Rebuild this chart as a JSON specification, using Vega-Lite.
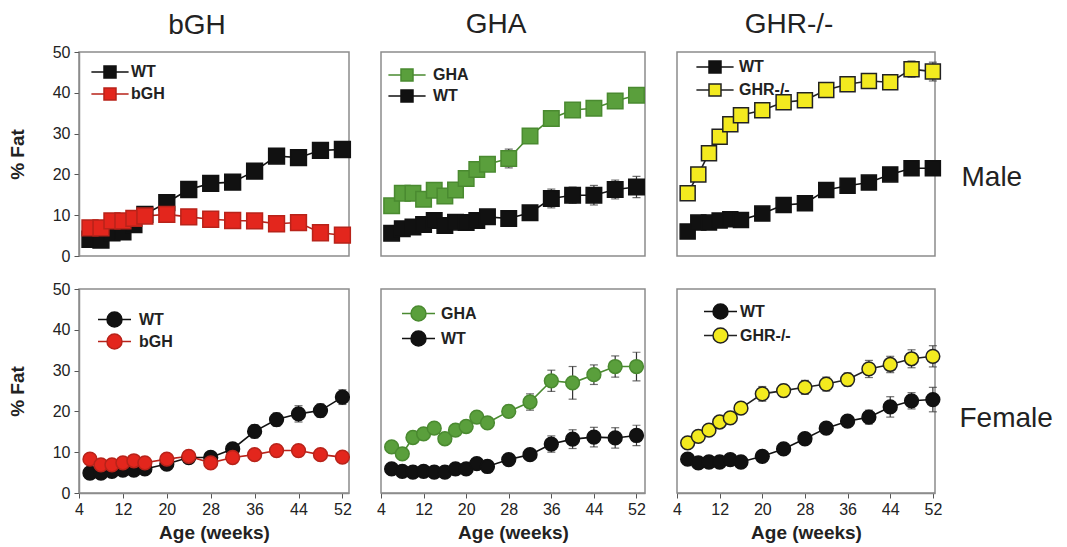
{
  "$schema": "https://vega.github.io/schema/vega-lite/v6.json",
  "padding": {"top": 10, "left": 7, "right": 5, "bottom": 5},
  "background": "white",
  "datasets": {
    "fat": [
      {"sex":"Male","model":"bGH","group":"WT","week":6,"fat":4.1,"se":0.6},
      {"sex":"Male","model":"bGH","group":"WT","week":8,"fat":3.9,"se":0.6},
      {"sex":"Male","model":"bGH","group":"WT","week":10,"fat":5.7,"se":0.6},
      {"sex":"Male","model":"bGH","group":"WT","week":12,"fat":5.9,"se":0.6},
      {"sex":"Male","model":"bGH","group":"WT","week":14,"fat":7.7,"se":0.6},
      {"sex":"Male","model":"bGH","group":"WT","week":16,"fat":10.2,"se":0.6},
      {"sex":"Male","model":"bGH","group":"WT","week":20,"fat":13.1,"se":0.8},
      {"sex":"Male","model":"bGH","group":"WT","week":24,"fat":16.3,"se":1.5},
      {"sex":"Male","model":"bGH","group":"WT","week":28,"fat":17.8,"se":1.0},
      {"sex":"Male","model":"bGH","group":"WT","week":32,"fat":18.1,"se":1.0},
      {"sex":"Male","model":"bGH","group":"WT","week":36,"fat":20.8,"se":1.5},
      {"sex":"Male","model":"bGH","group":"WT","week":40,"fat":24.5,"se":1.5},
      {"sex":"Male","model":"bGH","group":"WT","week":44,"fat":24.1,"se":1.2},
      {"sex":"Male","model":"bGH","group":"WT","week":48,"fat":25.9,"se":1.5},
      {"sex":"Male","model":"bGH","group":"WT","week":52,"fat":26.1,"se":1.2},
      {"sex":"Male","model":"bGH","group":"bGH","week":6,"fat":6.9,"se":0.6},
      {"sex":"Male","model":"bGH","group":"bGH","week":8,"fat":6.9,"se":0.6},
      {"sex":"Male","model":"bGH","group":"bGH","week":10,"fat":8.6,"se":0.6},
      {"sex":"Male","model":"bGH","group":"bGH","week":12,"fat":8.6,"se":0.6},
      {"sex":"Male","model":"bGH","group":"bGH","week":14,"fat":9.2,"se":0.6},
      {"sex":"Male","model":"bGH","group":"bGH","week":16,"fat":9.8,"se":0.6},
      {"sex":"Male","model":"bGH","group":"bGH","week":20,"fat":10.2,"se":0.6},
      {"sex":"Male","model":"bGH","group":"bGH","week":24,"fat":9.6,"se":0.6},
      {"sex":"Male","model":"bGH","group":"bGH","week":28,"fat":9.0,"se":0.6},
      {"sex":"Male","model":"bGH","group":"bGH","week":32,"fat":8.7,"se":0.6},
      {"sex":"Male","model":"bGH","group":"bGH","week":36,"fat":8.6,"se":0.6},
      {"sex":"Male","model":"bGH","group":"bGH","week":40,"fat":7.9,"se":0.6},
      {"sex":"Male","model":"bGH","group":"bGH","week":44,"fat":8.2,"se":0.6},
      {"sex":"Male","model":"bGH","group":"bGH","week":48,"fat":5.7,"se":0.6},
      {"sex":"Male","model":"bGH","group":"bGH","week":52,"fat":5.1,"se":0.6},

      {"sex":"Male","model":"GHA","group":"GHA","week":6,"fat":12.3,"se":1.0},
      {"sex":"Male","model":"GHA","group":"GHA","week":8,"fat":15.4,"se":1.0},
      {"sex":"Male","model":"GHA","group":"GHA","week":10,"fat":15.4,"se":1.0},
      {"sex":"Male","model":"GHA","group":"GHA","week":12,"fat":13.9,"se":1.0},
      {"sex":"Male","model":"GHA","group":"GHA","week":14,"fat":16.1,"se":1.2},
      {"sex":"Male","model":"GHA","group":"GHA","week":16,"fat":14.7,"se":1.0},
      {"sex":"Male","model":"GHA","group":"GHA","week":18,"fat":16.2,"se":1.0},
      {"sex":"Male","model":"GHA","group":"GHA","week":20,"fat":19.0,"se":1.0},
      {"sex":"Male","model":"GHA","group":"GHA","week":22,"fat":21.2,"se":1.0},
      {"sex":"Male","model":"GHA","group":"GHA","week":24,"fat":22.5,"se":1.0},
      {"sex":"Male","model":"GHA","group":"GHA","week":28,"fat":23.9,"se":2.3},
      {"sex":"Male","model":"GHA","group":"GHA","week":32,"fat":29.4,"se":1.0},
      {"sex":"Male","model":"GHA","group":"GHA","week":36,"fat":33.7,"se":1.0},
      {"sex":"Male","model":"GHA","group":"GHA","week":40,"fat":35.8,"se":1.0},
      {"sex":"Male","model":"GHA","group":"GHA","week":44,"fat":36.2,"se":1.0},
      {"sex":"Male","model":"GHA","group":"GHA","week":48,"fat":38.0,"se":1.0},
      {"sex":"Male","model":"GHA","group":"GHA","week":52,"fat":39.4,"se":1.0},
      {"sex":"Male","model":"GHA","group":"WT","week":6,"fat":5.6,"se":0.8},
      {"sex":"Male","model":"GHA","group":"WT","week":8,"fat":6.7,"se":0.8},
      {"sex":"Male","model":"GHA","group":"WT","week":10,"fat":7.1,"se":0.8},
      {"sex":"Male","model":"GHA","group":"WT","week":12,"fat":7.7,"se":0.8},
      {"sex":"Male","model":"GHA","group":"WT","week":14,"fat":8.7,"se":1.2},
      {"sex":"Male","model":"GHA","group":"WT","week":16,"fat":7.5,"se":0.8},
      {"sex":"Male","model":"GHA","group":"WT","week":18,"fat":8.3,"se":1.0},
      {"sex":"Male","model":"GHA","group":"WT","week":20,"fat":8.2,"se":1.2},
      {"sex":"Male","model":"GHA","group":"WT","week":22,"fat":8.7,"se":1.2},
      {"sex":"Male","model":"GHA","group":"WT","week":24,"fat":9.6,"se":1.0},
      {"sex":"Male","model":"GHA","group":"WT","week":28,"fat":9.2,"se":1.5},
      {"sex":"Male","model":"GHA","group":"WT","week":32,"fat":10.6,"se":1.5},
      {"sex":"Male","model":"GHA","group":"WT","week":36,"fat":14.1,"se":2.3},
      {"sex":"Male","model":"GHA","group":"WT","week":40,"fat":14.9,"se":2.0},
      {"sex":"Male","model":"GHA","group":"WT","week":44,"fat":14.9,"se":2.4},
      {"sex":"Male","model":"GHA","group":"WT","week":48,"fat":16.3,"se":2.3},
      {"sex":"Male","model":"GHA","group":"WT","week":52,"fat":16.9,"se":2.6},

      {"sex":"Male","model":"GHR","group":"GHR-/-","week":6,"fat":15.4,"se":0.8},
      {"sex":"Male","model":"GHR","group":"GHR-/-","week":8,"fat":20.0,"se":0.8},
      {"sex":"Male","model":"GHR","group":"GHR-/-","week":10,"fat":25.2,"se":0.8},
      {"sex":"Male","model":"GHR","group":"GHR-/-","week":12,"fat":29.2,"se":0.8},
      {"sex":"Male","model":"GHR","group":"GHR-/-","week":14,"fat":32.3,"se":0.8},
      {"sex":"Male","model":"GHR","group":"GHR-/-","week":16,"fat":34.5,"se":0.8},
      {"sex":"Male","model":"GHR","group":"GHR-/-","week":20,"fat":35.7,"se":1.7},
      {"sex":"Male","model":"GHR","group":"GHR-/-","week":24,"fat":37.7,"se":1.2},
      {"sex":"Male","model":"GHR","group":"GHR-/-","week":28,"fat":38.2,"se":1.2},
      {"sex":"Male","model":"GHR","group":"GHR-/-","week":32,"fat":40.7,"se":1.5},
      {"sex":"Male","model":"GHR","group":"GHR-/-","week":36,"fat":42.1,"se":1.2},
      {"sex":"Male","model":"GHR","group":"GHR-/-","week":40,"fat":42.9,"se":1.0},
      {"sex":"Male","model":"GHR","group":"GHR-/-","week":44,"fat":42.6,"se":1.5},
      {"sex":"Male","model":"GHR","group":"GHR-/-","week":48,"fat":45.8,"se":2.0},
      {"sex":"Male","model":"GHR","group":"GHR-/-","week":52,"fat":45.2,"se":2.3},
      {"sex":"Male","model":"GHR","group":"WT","week":6,"fat":6.0,"se":0.6},
      {"sex":"Male","model":"GHR","group":"WT","week":8,"fat":8.2,"se":0.6},
      {"sex":"Male","model":"GHR","group":"WT","week":10,"fat":8.2,"se":0.6},
      {"sex":"Male","model":"GHR","group":"WT","week":12,"fat":8.7,"se":0.6},
      {"sex":"Male","model":"GHR","group":"WT","week":14,"fat":9.0,"se":0.6},
      {"sex":"Male","model":"GHR","group":"WT","week":16,"fat":8.8,"se":0.6},
      {"sex":"Male","model":"GHR","group":"WT","week":20,"fat":10.4,"se":1.0},
      {"sex":"Male","model":"GHR","group":"WT","week":24,"fat":12.5,"se":1.3},
      {"sex":"Male","model":"GHR","group":"WT","week":28,"fat":12.9,"se":1.6},
      {"sex":"Male","model":"GHR","group":"WT","week":32,"fat":16.2,"se":1.0},
      {"sex":"Male","model":"GHR","group":"WT","week":36,"fat":17.2,"se":1.0},
      {"sex":"Male","model":"GHR","group":"WT","week":40,"fat":18.0,"se":0.8},
      {"sex":"Male","model":"GHR","group":"WT","week":44,"fat":20.0,"se":1.0},
      {"sex":"Male","model":"GHR","group":"WT","week":48,"fat":21.5,"se":1.2},
      {"sex":"Male","model":"GHR","group":"WT","week":52,"fat":21.5,"se":1.2},

      {"sex":"Female","model":"bGH","group":"WT","week":6,"fat":4.9,"se":0.6},
      {"sex":"Female","model":"bGH","group":"WT","week":8,"fat":4.9,"se":0.6},
      {"sex":"Female","model":"bGH","group":"WT","week":10,"fat":5.3,"se":0.6},
      {"sex":"Female","model":"bGH","group":"WT","week":12,"fat":5.6,"se":0.6},
      {"sex":"Female","model":"bGH","group":"WT","week":14,"fat":5.6,"se":0.6},
      {"sex":"Female","model":"bGH","group":"WT","week":16,"fat":5.9,"se":0.6},
      {"sex":"Female","model":"bGH","group":"WT","week":20,"fat":7.1,"se":0.6},
      {"sex":"Female","model":"bGH","group":"WT","week":24,"fat":8.7,"se":0.6},
      {"sex":"Female","model":"bGH","group":"WT","week":28,"fat":8.7,"se":0.6},
      {"sex":"Female","model":"bGH","group":"WT","week":32,"fat":10.8,"se":0.6},
      {"sex":"Female","model":"bGH","group":"WT","week":36,"fat":15.1,"se":1.6},
      {"sex":"Female","model":"bGH","group":"WT","week":40,"fat":18.0,"se":1.6},
      {"sex":"Female","model":"bGH","group":"WT","week":44,"fat":19.4,"se":2.0},
      {"sex":"Female","model":"bGH","group":"WT","week":48,"fat":20.2,"se":1.6},
      {"sex":"Female","model":"bGH","group":"WT","week":52,"fat":23.5,"se":1.8},
      {"sex":"Female","model":"bGH","group":"bGH","week":6,"fat":8.3,"se":0.6},
      {"sex":"Female","model":"bGH","group":"bGH","week":8,"fat":6.9,"se":0.6},
      {"sex":"Female","model":"bGH","group":"bGH","week":10,"fat":6.9,"se":0.6},
      {"sex":"Female","model":"bGH","group":"bGH","week":12,"fat":7.4,"se":0.6},
      {"sex":"Female","model":"bGH","group":"bGH","week":14,"fat":7.9,"se":0.6},
      {"sex":"Female","model":"bGH","group":"bGH","week":16,"fat":7.4,"se":0.6},
      {"sex":"Female","model":"bGH","group":"bGH","week":20,"fat":8.3,"se":0.6},
      {"sex":"Female","model":"bGH","group":"bGH","week":24,"fat":9.0,"se":0.6},
      {"sex":"Female","model":"bGH","group":"bGH","week":28,"fat":7.4,"se":0.6},
      {"sex":"Female","model":"bGH","group":"bGH","week":32,"fat":8.7,"se":0.6},
      {"sex":"Female","model":"bGH","group":"bGH","week":36,"fat":9.4,"se":0.6},
      {"sex":"Female","model":"bGH","group":"bGH","week":40,"fat":10.4,"se":0.8},
      {"sex":"Female","model":"bGH","group":"bGH","week":44,"fat":10.4,"se":0.8},
      {"sex":"Female","model":"bGH","group":"bGH","week":48,"fat":9.4,"se":0.6},
      {"sex":"Female","model":"bGH","group":"bGH","week":52,"fat":8.8,"se":0.6},

      {"sex":"Female","model":"GHA","group":"GHA","week":6,"fat":11.3,"se":1.0},
      {"sex":"Female","model":"GHA","group":"GHA","week":8,"fat":9.6,"se":1.0},
      {"sex":"Female","model":"GHA","group":"GHA","week":10,"fat":13.6,"se":1.0},
      {"sex":"Female","model":"GHA","group":"GHA","week":12,"fat":14.5,"se":1.0},
      {"sex":"Female","model":"GHA","group":"GHA","week":14,"fat":15.9,"se":1.0},
      {"sex":"Female","model":"GHA","group":"GHA","week":16,"fat":13.3,"se":1.0},
      {"sex":"Female","model":"GHA","group":"GHA","week":18,"fat":15.4,"se":1.0},
      {"sex":"Female","model":"GHA","group":"GHA","week":20,"fat":16.3,"se":1.0},
      {"sex":"Female","model":"GHA","group":"GHA","week":22,"fat":18.6,"se":1.0},
      {"sex":"Female","model":"GHA","group":"GHA","week":24,"fat":17.2,"se":1.0},
      {"sex":"Female","model":"GHA","group":"GHA","week":28,"fat":20.0,"se":1.5},
      {"sex":"Female","model":"GHA","group":"GHA","week":32,"fat":22.3,"se":2.0},
      {"sex":"Female","model":"GHA","group":"GHA","week":36,"fat":27.5,"se":2.6},
      {"sex":"Female","model":"GHA","group":"GHA","week":40,"fat":27.0,"se":4.0},
      {"sex":"Female","model":"GHA","group":"GHA","week":44,"fat":29.0,"se":2.4},
      {"sex":"Female","model":"GHA","group":"GHA","week":48,"fat":31.0,"se":2.6},
      {"sex":"Female","model":"GHA","group":"GHA","week":52,"fat":31.0,"se":3.5},
      {"sex":"Female","model":"GHA","group":"WT","week":6,"fat":5.9,"se":0.6},
      {"sex":"Female","model":"GHA","group":"WT","week":8,"fat":5.3,"se":0.6},
      {"sex":"Female","model":"GHA","group":"WT","week":10,"fat":5.1,"se":0.6},
      {"sex":"Female","model":"GHA","group":"WT","week":12,"fat":5.3,"se":0.6},
      {"sex":"Female","model":"GHA","group":"WT","week":14,"fat":5.1,"se":0.6},
      {"sex":"Female","model":"GHA","group":"WT","week":16,"fat":5.1,"se":0.6},
      {"sex":"Female","model":"GHA","group":"WT","week":18,"fat":5.9,"se":0.6},
      {"sex":"Female","model":"GHA","group":"WT","week":20,"fat":5.9,"se":0.6},
      {"sex":"Female","model":"GHA","group":"WT","week":22,"fat":7.2,"se":0.6},
      {"sex":"Female","model":"GHA","group":"WT","week":24,"fat":6.5,"se":0.6},
      {"sex":"Female","model":"GHA","group":"WT","week":28,"fat":8.2,"se":0.8},
      {"sex":"Female","model":"GHA","group":"WT","week":32,"fat":9.4,"se":1.0},
      {"sex":"Female","model":"GHA","group":"WT","week":36,"fat":12.0,"se":2.0},
      {"sex":"Female","model":"GHA","group":"WT","week":40,"fat":13.2,"se":2.3},
      {"sex":"Female","model":"GHA","group":"WT","week":44,"fat":13.7,"se":2.4},
      {"sex":"Female","model":"GHA","group":"WT","week":48,"fat":13.5,"se":2.5},
      {"sex":"Female","model":"GHA","group":"WT","week":52,"fat":14.1,"se":2.5},

      {"sex":"Female","model":"GHR","group":"GHR-/-","week":6,"fat":12.3,"se":0.8},
      {"sex":"Female","model":"GHR","group":"GHR-/-","week":8,"fat":13.9,"se":0.8},
      {"sex":"Female","model":"GHR","group":"GHR-/-","week":10,"fat":15.4,"se":0.8},
      {"sex":"Female","model":"GHR","group":"GHR-/-","week":12,"fat":17.4,"se":0.8},
      {"sex":"Female","model":"GHR","group":"GHR-/-","week":14,"fat":18.4,"se":0.8},
      {"sex":"Female","model":"GHR","group":"GHR-/-","week":16,"fat":20.8,"se":0.8},
      {"sex":"Female","model":"GHR","group":"GHR-/-","week":20,"fat":24.3,"se":1.8},
      {"sex":"Female","model":"GHR","group":"GHR-/-","week":24,"fat":25.1,"se":1.5},
      {"sex":"Female","model":"GHR","group":"GHR-/-","week":28,"fat":25.9,"se":1.7},
      {"sex":"Female","model":"GHR","group":"GHR-/-","week":32,"fat":26.7,"se":1.7},
      {"sex":"Female","model":"GHR","group":"GHR-/-","week":36,"fat":27.8,"se":1.6},
      {"sex":"Female","model":"GHR","group":"GHR-/-","week":40,"fat":30.4,"se":2.1},
      {"sex":"Female","model":"GHR","group":"GHR-/-","week":44,"fat":31.5,"se":2.0},
      {"sex":"Female","model":"GHR","group":"GHR-/-","week":48,"fat":32.9,"se":2.2},
      {"sex":"Female","model":"GHR","group":"GHR-/-","week":52,"fat":33.5,"se":2.6},
      {"sex":"Female","model":"GHR","group":"WT","week":6,"fat":8.3,"se":0.6},
      {"sex":"Female","model":"GHR","group":"WT","week":8,"fat":7.4,"se":0.6},
      {"sex":"Female","model":"GHR","group":"WT","week":10,"fat":7.6,"se":0.6},
      {"sex":"Female","model":"GHR","group":"WT","week":12,"fat":7.6,"se":0.6},
      {"sex":"Female","model":"GHR","group":"WT","week":14,"fat":8.2,"se":0.6},
      {"sex":"Female","model":"GHR","group":"WT","week":16,"fat":7.6,"se":0.6},
      {"sex":"Female","model":"GHR","group":"WT","week":20,"fat":9.0,"se":0.8},
      {"sex":"Female","model":"GHR","group":"WT","week":24,"fat":10.8,"se":0.8},
      {"sex":"Female","model":"GHR","group":"WT","week":28,"fat":13.3,"se":0.8},
      {"sex":"Female","model":"GHR","group":"WT","week":32,"fat":15.9,"se":0.8},
      {"sex":"Female","model":"GHR","group":"WT","week":36,"fat":17.6,"se":1.0},
      {"sex":"Female","model":"GHR","group":"WT","week":40,"fat":18.6,"se":1.7},
      {"sex":"Female","model":"GHR","group":"WT","week":44,"fat":21.1,"se":2.5},
      {"sex":"Female","model":"GHR","group":"WT","week":48,"fat":22.6,"se":2.0},
      {"sex":"Female","model":"GHR","group":"WT","week":52,"fat":22.9,"se":3.0}
    ]
  },
  "data": {"name": "fat"},
  "spacing": 15,
  "resolve": {"scale": {"x": "independent", "y": "independent", "fill": "independent", "stroke": "independent"}, "legend": {"fill": "independent", "stroke": "independent"}},
  "vconcat": [
    {
      "spacing": 32,
      "bounds": "flush",
      "resolve": {"scale": {"x": "independent", "y": "independent", "fill": "independent", "stroke": "independent"}, "legend": {"fill": "independent", "stroke": "independent"}},
      "hconcat": [
        {
          "width": 270, "height": 204,
          "title": {"text": "bGH", "dx": -17, "offset": 4},
          "transform": [{"filter": "datum.sex === 'Male' && datum.model === 'bGH'"}],
          "encoding": {
            "x": {"field": "week", "type": "quantitative", "scale": {"domain": [4, 53.2], "nice": false, "zero": false}, "axis": null},
            "y": {"field": "fat", "type": "quantitative", "scale": {"domain": [0, 50], "nice": false}, "axis": {"values": [0, 10, 20, 30, 40, 50], "title": "% Fat", "titlePadding": 25, "labelPadding": 4}}
          },
          "layer": [
            {"mark": {"type": "errorbar", "ticks": {"size": 8}, "color": "#333", "thickness": 1.2}, "encoding": {"y": {"field": "fat", "type": "quantitative"}, "yError": {"field": "se"}}},
            {"mark": {"type": "line", "strokeWidth": 1.6}, "encoding": {"stroke": {"field": "group", "type": "nominal", "scale": {"domain": ["WT", "bGH"], "range": ["#111111", "#b8231a"]}}}},
            {"mark": {"type": "point", "shape": "square", "filled": true, "size": 250, "strokeWidth": 1.5, "opacity": 1},
             "encoding": {
               "fill": {"field": "group", "type": "nominal", "scale": {"domain": ["WT", "bGH"], "range": ["#111111", "#e3261d"]},
                        "legend": {"orient": "none", "legendX": 23, "legendY": 12, "title": null, "symbolType": "M-3.1,0H-1M1,0H3.1M-1,-1H1V1H-1Z", "symbolSize": 144, "symbolStrokeWidth": 1.5, "labelOffset": 13, "rowPadding": 4}},
               "stroke": {"field": "group", "type": "nominal", "scale": {"domain": ["WT", "bGH"], "range": ["#111111", "#b8231a"]},
                        "legend": {"orient": "none", "legendX": 23, "legendY": 12, "title": null, "symbolType": "M-3.1,0H-1M1,0H3.1M-1,-1H1V1H-1Z", "symbolSize": 144, "symbolStrokeWidth": 1.5, "labelOffset": 13, "rowPadding": 4}}
             }}
          ]
        },
        {
          "width": 264, "height": 204,
          "title": {"text": "GHA", "dx": -17, "offset": 13},
          "transform": [{"filter": "datum.sex === 'Male' && datum.model === 'GHA'"}],
          "encoding": {
            "x": {"field": "week", "type": "quantitative", "scale": {"domain": [4, 53.6], "nice": false, "zero": false}, "axis": null},
            "y": {"field": "fat", "type": "quantitative", "scale": {"domain": [0, 50], "nice": false}, "axis": null}
          },
          "layer": [
            {"mark": {"type": "errorbar", "ticks": {"size": 8}, "color": "#333", "thickness": 1.2}, "encoding": {"y": {"field": "fat", "type": "quantitative"}, "yError": {"field": "se"}}},
            {"mark": {"type": "line", "strokeWidth": 1.6}, "encoding": {"stroke": {"field": "group", "type": "nominal", "scale": {"domain": ["GHA", "WT"], "range": ["#4a8a30", "#111111"]}}}},
            {"mark": {"type": "point", "shape": "square", "filled": true, "size": 240, "strokeWidth": 1.5, "opacity": 1},
             "encoding": {
               "fill": {"field": "group", "type": "nominal", "scale": {"domain": ["GHA", "WT"], "range": ["#5a9f3c", "#111111"]},
                        "legend": {"orient": "none", "legendX": 18, "legendY": 15, "title": null, "symbolType": "M-3.1,0H-1M1,0H3.1M-1,-1H1V1H-1Z", "symbolSize": 144, "symbolStrokeWidth": 1.5, "labelOffset": 18, "rowPadding": 3}},
               "stroke": {"field": "group", "type": "nominal", "scale": {"domain": ["GHA", "WT"], "range": ["#3f7a28", "#111111"]},
                        "legend": {"orient": "none", "legendX": 18, "legendY": 15, "title": null, "symbolType": "M-3.1,0H-1M1,0H3.1M-1,-1H1V1H-1Z", "symbolSize": 144, "symbolStrokeWidth": 1.5, "labelOffset": 18, "rowPadding": 3}}
             }}
          ]
        },
        {
          "width": 258, "height": 204,
          "title": {"text": "GHR-/-", "dx": -17, "offset": 13},
          "transform": [{"filter": "datum.sex === 'Male' && datum.model === 'GHR'"}],
          "encoding": {
            "x": {"field": "week", "type": "quantitative", "scale": {"domain": [4, 52.4], "nice": false, "zero": false}, "axis": null},
            "y": {"field": "fat", "type": "quantitative", "scale": {"domain": [0, 50], "nice": false},
                  "axis": {"orient": "right", "labels": false, "ticks": false, "domain": false, "grid": false, "title": "Male", "titleAngle": 0, "titleFontSize": 28, "titleFontWeight": "normal", "titleAlign": "left", "titleBaseline": "alphabetic", "titleX": 26, "titleY": 133}}
          },
          "layer": [
            {"mark": {"type": "errorbar", "ticks": {"size": 8}, "color": "#333", "thickness": 1.2}, "encoding": {"y": {"field": "fat", "type": "quantitative"}, "yError": {"field": "se"}}},
            {"mark": {"type": "line", "strokeWidth": 1.6}, "encoding": {"stroke": {"field": "group", "type": "nominal", "scale": {"domain": ["WT", "GHR-/-"], "range": ["#111111", "#222222"]}}}},
            {"mark": {"type": "point", "shape": "square", "filled": true, "size": 225, "strokeWidth": 1.5, "opacity": 1},
             "encoding": {
               "fill": {"field": "group", "type": "nominal", "scale": {"domain": ["WT", "GHR-/-"], "range": ["#111111", "#f3ea1f"]},
                        "legend": {"orient": "none", "legendX": 30, "legendY": 7, "title": null, "symbolType": "M-3.1,0H-1M1,0H3.1M-1,-1H1V1H-1Z", "symbolSize": 144, "symbolStrokeWidth": 1.5, "labelOffset": 16, "rowPadding": 5}},
               "stroke": {"field": "group", "type": "nominal", "scale": {"domain": ["WT", "GHR-/-"], "range": ["#111111", "#222222"]},
                        "legend": {"orient": "none", "legendX": 30, "legendY": 7, "title": null, "symbolType": "M-3.1,0H-1M1,0H3.1M-1,-1H1V1H-1Z", "symbolSize": 144, "symbolStrokeWidth": 1.5, "labelOffset": 16, "rowPadding": 5}}
             }}
          ]
        }
      ]
    },
    {
      "spacing": 32,
      "bounds": "flush",
      "resolve": {"scale": {"x": "independent", "y": "independent", "fill": "independent", "stroke": "independent"}, "legend": {"fill": "independent", "stroke": "independent"}},
      "hconcat": [
        {
          "width": 270, "height": 204,
          "transform": [{"filter": "datum.sex === 'Female' && datum.model === 'bGH'"}],
          "encoding": {
            "x": {"field": "week", "type": "quantitative", "scale": {"domain": [4, 53.2], "nice": false, "zero": false}, "axis": {"values": [4, 12, 20, 28, 36, 44, 52], "title": "Age (weeks)", "titlePadding": 6, "labelPadding": 3, "labelFlush": false}},
            "y": {"field": "fat", "type": "quantitative", "scale": {"domain": [0, 50], "nice": false}, "axis": {"values": [0, 10, 20, 30, 40, 50], "title": "% Fat", "titlePadding": 25, "labelPadding": 4}}
          },
          "layer": [
            {"mark": {"type": "errorbar", "ticks": {"size": 8}, "color": "#333", "thickness": 1.2}, "encoding": {"y": {"field": "fat", "type": "quantitative"}, "yError": {"field": "se"}}},
            {"mark": {"type": "line", "strokeWidth": 1.6}, "encoding": {"stroke": {"field": "group", "type": "nominal", "scale": {"domain": ["WT", "bGH"], "range": ["#111111", "#b8231a"]}}}},
            {"mark": {"type": "point", "shape": "circle", "filled": true, "size": 190, "strokeWidth": 1.5, "opacity": 1},
             "encoding": {
               "fill": {"field": "group", "type": "nominal", "scale": {"domain": ["WT", "bGH"], "range": ["#111111", "#e3261d"]},
                        "legend": {"orient": "none", "legendX": 27, "legendY": 22, "title": null, "symbolType": "M-2.2,0H-1M1,0H2.2M-1,0A1,1 0 1,1 1,0A1,1 0 1,1 -1,0Z", "symbolSize": 225, "symbolStrokeWidth": 1.5, "labelOffset": 16, "rowPadding": 1}},
               "stroke": {"field": "group", "type": "nominal", "scale": {"domain": ["WT", "bGH"], "range": ["#111111", "#b8231a"]},
                        "legend": {"orient": "none", "legendX": 27, "legendY": 22, "title": null, "symbolType": "M-2.2,0H-1M1,0H2.2M-1,0A1,1 0 1,1 1,0A1,1 0 1,1 -1,0Z", "symbolSize": 225, "symbolStrokeWidth": 1.5, "labelOffset": 16, "rowPadding": 1}}
             }}
          ]
        },
        {
          "width": 264, "height": 204,
          "transform": [{"filter": "datum.sex === 'Female' && datum.model === 'GHA'"}],
          "encoding": {
            "x": {"field": "week", "type": "quantitative", "scale": {"domain": [4, 53.6], "nice": false, "zero": false}, "axis": {"values": [4, 12, 20, 28, 36, 44, 52], "title": "Age (weeks)", "titlePadding": 6, "labelPadding": 3, "labelFlush": false}},
            "y": {"field": "fat", "type": "quantitative", "scale": {"domain": [0, 50], "nice": false}, "axis": null}
          },
          "layer": [
            {"mark": {"type": "errorbar", "ticks": {"size": 8}, "color": "#333", "thickness": 1.2}, "encoding": {"y": {"field": "fat", "type": "quantitative"}, "yError": {"field": "se"}}},
            {"mark": {"type": "line", "strokeWidth": 1.6}, "encoding": {"stroke": {"field": "group", "type": "nominal", "scale": {"domain": ["GHA", "WT"], "range": ["#4a8a30", "#111111"]}}}},
            {"mark": {"type": "point", "shape": "circle", "filled": true, "size": 190, "strokeWidth": 1.5, "opacity": 1},
             "encoding": {
               "fill": {"field": "group", "type": "nominal", "scale": {"domain": ["GHA", "WT"], "range": ["#5a9f3c", "#111111"]},
                        "legend": {"orient": "none", "legendX": 29, "legendY": 16, "title": null, "symbolType": "M-2.2,0H-1M1,0H2.2M-1,0A1,1 0 1,1 1,0A1,1 0 1,1 -1,0Z", "symbolSize": 225, "symbolStrokeWidth": 1.5, "labelOffset": 14, "rowPadding": 4}},
               "stroke": {"field": "group", "type": "nominal", "scale": {"domain": ["GHA", "WT"], "range": ["#3f7a28", "#111111"]},
                        "legend": {"orient": "none", "legendX": 29, "legendY": 16, "title": null, "symbolType": "M-2.2,0H-1M1,0H2.2M-1,0A1,1 0 1,1 1,0A1,1 0 1,1 -1,0Z", "symbolSize": 225, "symbolStrokeWidth": 1.5, "labelOffset": 14, "rowPadding": 4}}
             }}
          ]
        },
        {
          "width": 258, "height": 204,
          "transform": [{"filter": "datum.sex === 'Female' && datum.model === 'GHR'"}],
          "encoding": {
            "x": {"field": "week", "type": "quantitative", "scale": {"domain": [4, 52.4], "nice": false, "zero": false}, "axis": {"values": [4, 12, 20, 28, 36, 44, 52], "title": "Age (weeks)", "titlePadding": 6, "labelPadding": 3, "labelFlush": false}},
            "y": {"field": "fat", "type": "quantitative", "scale": {"domain": [0, 50], "nice": false},
                  "axis": {"orient": "right", "labels": false, "ticks": false, "domain": false, "grid": false, "title": "Female", "titleAngle": 0, "titleFontSize": 28, "titleFontWeight": "normal", "titleAlign": "left", "titleBaseline": "alphabetic", "titleX": 24, "titleY": 137}}
          },
          "layer": [
            {"mark": {"type": "errorbar", "ticks": {"size": 8}, "color": "#333", "thickness": 1.2}, "encoding": {"y": {"field": "fat", "type": "quantitative"}, "yError": {"field": "se"}}},
            {"mark": {"type": "line", "strokeWidth": 1.6}, "encoding": {"stroke": {"field": "group", "type": "nominal", "scale": {"domain": ["WT", "GHR-/-"], "range": ["#111111", "#222222"]}}}},
            {"mark": {"type": "point", "shape": "circle", "filled": true, "size": 190, "strokeWidth": 1.5, "opacity": 1},
             "encoding": {
               "fill": {"field": "group", "type": "nominal", "scale": {"domain": ["WT", "GHR-/-"], "range": ["#111111", "#f3ea1f"]},
                        "legend": {"orient": "none", "legendX": 35, "legendY": 14, "title": null, "symbolType": "M-2.2,0H-1M1,0H2.2M-1,0A1,1 0 1,1 1,0A1,1 0 1,1 -1,0Z", "symbolSize": 225, "symbolStrokeWidth": 1.5, "labelOffset": 11, "rowPadding": 3}},
               "stroke": {"field": "group", "type": "nominal", "scale": {"domain": ["WT", "GHR-/-"], "range": ["#111111", "#222222"]},
                        "legend": {"orient": "none", "legendX": 35, "legendY": 14, "title": null, "symbolType": "M-2.2,0H-1M1,0H2.2M-1,0A1,1 0 1,1 1,0A1,1 0 1,1 -1,0Z", "symbolSize": 225, "symbolStrokeWidth": 1.5, "labelOffset": 11, "rowPadding": 3}}
             }}
          ]
        }
      ]
    }
  ],
  "config": {
    "font": "Liberation Sans",
    "view": {"stroke": "#8c8c8c", "strokeWidth": 1.5},
    "axis": {"domainColor": "#8c8c8c", "domainWidth": 1.5, "tickColor": "#555555", "tickSize": 5, "labelFontSize": 16, "labelColor": "#222222", "titleFontSize": 19, "titleFontWeight": "bold", "titleColor": "#222222", "grid": false},
    "legend": {"labelFontSize": 16, "labelFontWeight": "bold", "labelColor": "#222222", "padding": 0},
    "title": {"fontSize": 28, "fontWeight": "normal", "color": "#222222", "baseline": "alphabetic", "offset": 20}
  }
}
